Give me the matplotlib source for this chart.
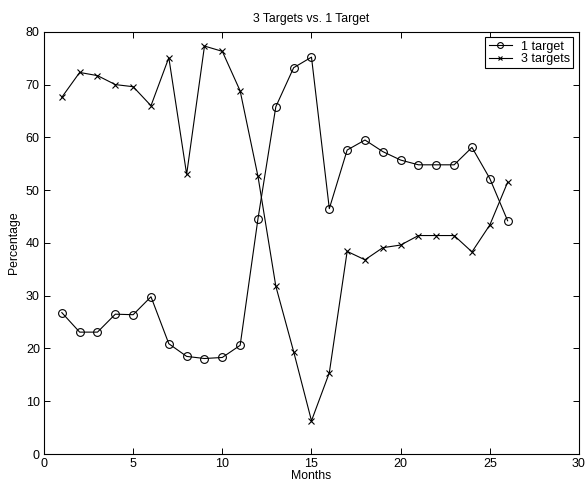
import matplotlib
matplotlib.use('Agg')
import matplotlib.pyplot as plt

months = list(range(1, 27))
one_target = [26.8, 23.1, 23.1, 26.5, 26.4, 29.8, 20.9, 18.5, 18.1, 18.3, 20.6, 44.6, 65.8,
              73.2, 75.2, 46.5, 57.6, 59.5, 57.3, 55.7, 54.8, 54.8, 54.8, 58.1, 52.2, 44.2]
three_targets = [67.6, 72.3, 71.7, 70.0, 69.6, 66.0, 75.1, 53.0, 77.3, 76.3, 68.8, 52.6, 31.8,
                 19.4, 6.3, 15.4, 38.4, 36.8, 39.1, 39.6, 41.4, 41.4, 41.4, 38.3, 43.4, 51.5]
xticks = [0, 5, 10, 15, 20, 25, 30]
yticks = [0, 10, 20, 30, 40, 50, 60, 70, 80]

plt.rcParams['font.family'] = ['Liberation Sans', 'DejaVu Sans']

fig = plt.figure(figsize=(5.85, 4.82), dpi=100)
ax = fig.add_axes([0.0752, 0.058, 0.9145, 0.876])

ax.plot(months, one_target, color='black', linewidth=0.8, marker='o', markersize=5.6,
        markerfacecolor='none', markeredgewidth=0.8, label='1 target')
ax.plot(months, three_targets, color='black', linewidth=0.8, marker='x', markersize=4.5,
        markeredgewidth=0.8, label='3 targets')

ax.set_xlim(0, 30)
ax.set_ylim(0, 80)
ax.set_xticks(xticks)
ax.set_yticks(yticks)
ax.tick_params(direction='in', top=True, right=True, labelsize=9, length=4, width=0.7, pad=3)
for s in ax.spines.values():
    s.set_linewidth(0.8)

ax.set_title('3 Targets vs. 1 Target', fontsize=8.8, pad=7)
ax.set_xlabel('Months', fontsize=8.8, labelpad=0)
ax.set_ylabel('Percentage', fontsize=8.8, labelpad=4)

leg = ax.legend(loc='upper right', fontsize=9, handlelength=1.9, handletextpad=0.7,
                borderpad=0.25, labelspacing=0.05, fancybox=False, framealpha=1,
                borderaxespad=0.45, markerscale=0.75)
leg.get_frame().set_edgecolor('black')
leg.get_frame().set_linewidth(0.8)

fig.savefig('out.png', dpi=100)
